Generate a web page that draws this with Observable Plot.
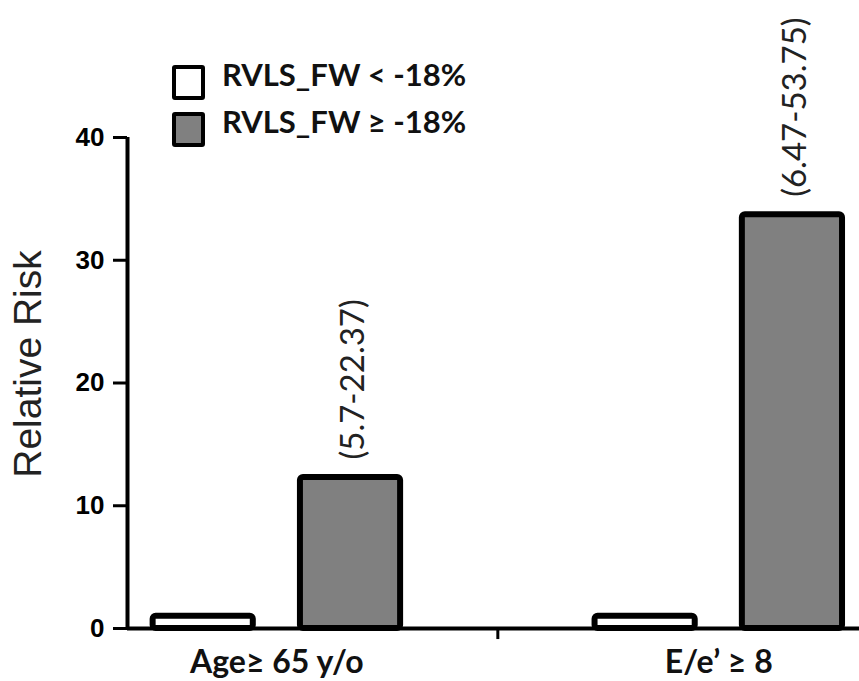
<!DOCTYPE html>
<html>
<head>
<meta charset="utf-8">
<script src="https://cdn.jsdelivr.net/npm/d3@7"></script>
<script src="https://cdn.jsdelivr.net/npm/@observablehq/plot@0.6"></script>
<style>
  html, body { margin: 0; padding: 0; background: #fff; }
  #wrap { position: relative; width: 859px; height: 681px; }
  #legend { position: absolute; left: 172px; top: 65px; font-family: Lato, "Open Sans", sans-serif; font-weight: bold; font-size: 31px; color: #111; }
  .row { display: flex; align-items: flex-start; height: 47px; }
  .sw { width: 33px; height: 35px; box-sizing: border-box; border: 4px solid #000; border-radius: 3px; margin-right: 17px; }
  .lbl { line-height: 1; margin-top: -6px; white-space: nowrap; }
</style>
</head>
<body>
<div id="wrap"></div>
<script>
// ---- data ----
const categories = ["Age\u2265 65 y/o", "E/e\u2019 \u2265 8"];
const series = ["RVLS_FW < -18%", "RVLS_FW \u2265 -18%"];
const lowGroupValues = [1, 1];          // RVLS_FW < -18%
const highGroupValues = [12.3, 33.7];   // RVLS_FW >= -18%
const ciLabels = ["(5.7-22.37)", "(6.47-53.75)"];
const yTicks = [0, 10, 20, 30, 40];

// ---- build table ----
const rows = [];
categories.forEach((c, gi) => {
  [lowGroupValues[gi], highGroupValues[gi]].forEach((v, si) => {
    rows.push({category: c, series: series[si], value: v, slot: gi * 3 + si, ci: si === 1 ? ciLabels[gi] : null});
  });
});
const groupCenters = categories.map((c, gi) => ({category: c, slot: gi * 3 + 0.5}));
const separators = [ (groupCenters[0].slot + groupCenters[1].slot) / 2 ];
const halfBar = 0.34;
const xDomain = [-0.514, 4.5];

const chart = Plot.plot({
  width: 859,
  height: 681,
  marginTop: 137,
  marginBottom: 53,
  marginLeft: 127,
  marginRight: 0,
  style: {background: "#fff", overflow: "visible"},
  x: {type: "linear", domain: xDomain, range: [127, 865.6], axis: null},
  y: {domain: [0, 40], axis: null},
  color: {domain: series, range: ["#ffffff", "#808080"]},
  marks: [
    Plot.rect(rows, {
      x1: d => d.slot - halfBar, x2: d => d.slot + halfBar,
      y1: 0, y2: "value", fill: "series",
      stroke: "#000", strokeWidth: 6, rx: 3
    }),
    Plot.ruleY([0], {stroke: "#000", strokeWidth: 4}),
    Plot.ruleX([xDomain[0]], {y1: 0, y2: 40, stroke: "#000", strokeWidth: 4}),
    Plot.axisY(yTicks, {
      tickSize: 14, tickPadding: 9, strokeWidth: 3, label: null,
      fontSize: 26, fontWeight: "bold", fontFamily: "Liberation Sans, Arial, sans-serif", fill: "#000"
    }),
    Plot.ruleX(separators, {y1: 0, y2: -0.9, stroke: "#000", strokeWidth: 3}),
    Plot.text(groupCenters, {
      x: "slot", y: 0, text: "category", dy: 34,
      fontSize: 32, fontWeight: "bold", fontFamily: "Lato, sans-serif", fill: "#111"
    }),
    Plot.text(rows.filter(d => d.ci), {
      x: "slot", y: "value", text: "ci", rotate: -90, textAnchor: "start",
      dy: -18, dx: 3, fontSize: 33, fontFamily: "Lato, sans-serif", fill: "#222"
    }),
    Plot.text(["Relative Risk"], {
      frameAnchor: "left", textAnchor: "middle", rotate: -90, dx: -99, dy: -19,
      fontSize: 39, fontFamily: "Liberation Sans, Arial, sans-serif", fill: "#222"
    })
  ]
});

const wrap = document.getElementById("wrap");
wrap.appendChild(chart);
const legend = document.createElement("div");
legend.id = "legend";
const legendFill = ["#ffffff", "#808080"];
series.forEach((s, i) => {
  const row = document.createElement("div");
  row.className = "row";
  const sw = document.createElement("div");
  sw.className = "sw";
  sw.style.background = legendFill[i];
  const lbl = document.createElement("div");
  lbl.className = "lbl";
  lbl.textContent = s;
  row.appendChild(sw); row.appendChild(lbl);
  legend.appendChild(row);
});
wrap.appendChild(legend);
</script>
</body>
</html>
